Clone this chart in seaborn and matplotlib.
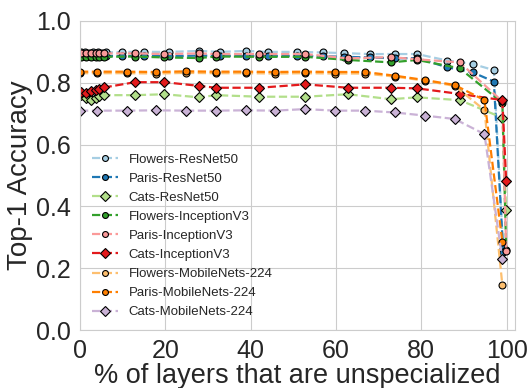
import numpy as np
import pandas as pd
import seaborn as sns
import matplotlib.pyplot as plt

# x positions (% of layers unspecialized)
x_resnet = [0.3, 1.2, 2.2, 3.1, 4.2, 5.1, 6.1, 9.8, 14.9, 20.9, 28.0, 32.9, 39.0, 44.0,
            50.9, 57.0, 61.8, 67.9, 73.9, 79.0, 86.1, 92.0, 97.0, 99.2]
x_inception = [0.2, 1.4, 2.6, 3.8, 4.5, 5.7, 12.9, 19.8, 27.9, 31.9, 42.0, 52.8,
               62.8, 72.9, 79.0, 89.0, 99.0, 99.9]
x_mobilenet = [0.0, 3.9, 10.9, 17.8, 24.8, 31.8, 38.8, 45.8, 52.7, 59.7, 66.7,
               73.8, 80.8, 87.8, 94.8, 99.0]

# top-1 accuracy per series
flowers_resnet = [0.898, 0.898, 0.897, 0.898, 0.898, 0.897, 0.898, 0.900, 0.900, 0.900,
                  0.903, 0.900, 0.903, 0.900, 0.900, 0.898, 0.896, 0.893, 0.893, 0.893,
                  0.872, 0.861, 0.841, 0.262]
paris_resnet = [0.887, 0.887, 0.886, 0.887, 0.887, 0.886, 0.887, 0.887, 0.887, 0.886,
                0.888, 0.887, 0.887, 0.886, 0.887, 0.886, 0.884, 0.882, 0.879, 0.880,
                0.850, 0.834, 0.804, 0.253]
cats_resnet = [0.760, 0.752, 0.745, 0.750, 0.756, 0.760, 0.760, 0.763, 0.753, 0.760,
               0.755, 0.755, 0.763, 0.747, 0.753, 0.744, 0.687, 0.390]
flowers_inception = [0.884, 0.884, 0.884, 0.884, 0.884, 0.884, 0.885, 0.882, 0.880,
                     0.885, 0.884, 0.884, 0.874, 0.866, 0.874, 0.847, 0.735, 0.259]
paris_inception = [0.895, 0.895, 0.895, 0.895, 0.895, 0.895, 0.895, 0.893, 0.895,
                   0.893, 0.893, 0.893, 0.879, 0.883, 0.876, 0.866, 0.740, 0.257]
cats_inception = [0.770, 0.768, 0.772, 0.776, 0.780, 0.785, 0.802, 0.802, 0.790,
                  0.784, 0.784, 0.795, 0.784, 0.784, 0.782, 0.764, 0.744, 0.483]
flowers_mobilenet = [0.831, 0.831, 0.831, 0.830, 0.832, 0.831, 0.831, 0.830, 0.831,
                     0.830, 0.830, 0.820, 0.807, 0.790, 0.712, 0.146]
paris_mobilenet = [0.836, 0.836, 0.836, 0.835, 0.837, 0.836, 0.836, 0.835, 0.836,
                   0.835, 0.835, 0.823, 0.809, 0.793, 0.744, 0.286]
cats_mobilenet = [0.710, 0.710, 0.710, 0.711, 0.710, 0.710, 0.711, 0.710, 0.715,
                  0.710, 0.710, 0.704, 0.694, 0.683, 0.634, 0.229]

labels = ['Flowers-ResNet50', 'Paris-ResNet50', 'Cats-ResNet50',
          'Flowers-InceptionV3', 'Paris-InceptionV3', 'Cats-InceptionV3',
          'Flowers-MobileNets-224', 'Paris-MobileNets-224', 'Cats-MobileNets-224']
xs = [x_resnet, x_resnet, x_inception,
      x_inception, x_inception, x_inception,
      x_mobilenet, x_mobilenet, x_mobilenet]
ys = [flowers_resnet, paris_resnet, cats_resnet,
      flowers_inception, paris_inception, cats_inception,
      flowers_mobilenet, paris_mobilenet, cats_mobilenet]

sns.set_style('whitegrid')
plt.rcParams['font.family'] = ['Liberation Sans', 'DejaVu Sans']

colors = sns.color_palette('Paired', 9)

fig = plt.figure(figsize=(5.3, 3.88), dpi=100)
ax = fig.add_axes([0.151, 0.149, 0.821, 0.797])

for i, (lab, x, y) in enumerate(zip(labels, xs, ys)):
    is_cat = lab.startswith('Cats')
    df = pd.DataFrame({'x': x, 'y': y})
    sns.lineplot(data=df, x='x', y='y', ax=ax, color=colors[i], label=lab,
                 linestyle='--', linewidth=1.6,
                 marker='D' if is_cat else 'o',
                 markersize=5.5 if is_cat else 5,
                 markeredgecolor='k', markeredgewidth=0.8)

ax.set_xlim(0, 102)
ax.set_ylim(0, 1.0)
ax.set_xticks([0, 20, 40, 60, 80, 100])
ax.set_yticks(np.arange(0, 1.01, 0.2))
ax.set_yticklabels(['0.0', '0.2', '0.4', '0.6', '0.8', '1.0'])
ax.tick_params(labelsize=18, pad=3)
ax.set_xlabel('% of layers that are unspecialized', fontsize=19.5, labelpad=0)
ax.set_ylabel('Top-1 Accuracy', fontsize=20, labelpad=2)
ax.legend(loc='lower left', fontsize=9.5, frameon=False, labelspacing=0.52,
          markerscale=0.85)

fig.savefig('out.png', dpi=100)
